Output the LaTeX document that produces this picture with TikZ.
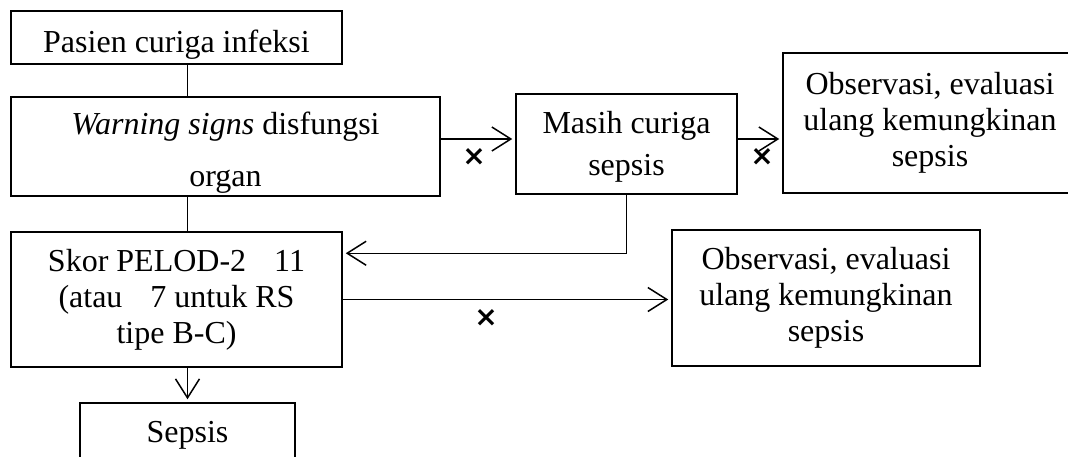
\documentclass[tikz,border=0pt]{standalone}
\usepackage{fontspec}
\setmainfont{Liberation Serif}
\newfontfamily\crossfont{DejaVu Sans}
\usepackage{tikz}
\usetikzlibrary{arrows.meta}

\begin{document}
\begin{tikzpicture}[x=1pt, y=-1pt,
    box/.style={draw, line width=1.5pt, inner sep=0pt, align=center,
        font=\fontsize{32}{36}\selectfont},
    arr/.style={line width=1.5pt, -{Straight Barb[length=19pt, width=24pt, line width=1.5pt]}, shorten >=3pt},
    link/.style={line width=1.5pt},
    cross/.style={inner sep=0pt, font=\crossfont\bfseries\fontsize{28}{28}\selectfont}]
    \useasboundingbox (0,0) rectangle (1068,456);

    % kotak-kotak alur
    \node[box, minimum width=331pt, minimum height=53pt] (pasien) at (176.5,37.5) {\rule{0pt}{36pt}Pasien curiga infeksi};
    \node[box, minimum width=429pt, minimum height=99pt, font=\fontsize{32}{52}\selectfont] (warn) at (225.5,146.5) {\rule{0pt}{34pt}\textit{Warning signs} disfungsi\\organ};
    \node[box, minimum width=221pt, minimum height=100pt, font=\fontsize{32}{42}\selectfont] (masih) at (626.5,144) {\rule{0pt}{27pt}Masih curiga\\sepsis};
    \node[box, minimum width=294pt, minimum height=140pt] (obsA) at (930,123) {Observasi, evaluasi\\ulang kemungkinan\\sepsis};
    \node[box, minimum width=331pt, minimum height=135pt] (skor) at (176.5,299.5) {Skor PELOD-2 \hspace{12pt} 11\\(atau \hspace{12pt} 7 untuk RS\\tipe B-C)};
    \node[box, minimum width=308pt, minimum height=136pt] (obsB) at (826,298) {Observasi, evaluasi\\ulang kemungkinan\\sepsis};
    \node[box, minimum width=215pt, minimum height=64pt] (sepsis) at (187.5,435) {Sepsis};

    % tanda silang
    \node[cross] (xA) at (474,157) {×};
    \node[cross] (xB) at (762,157) {×};
    \node[cross] (xC) at (486,318) {×};

    % garis penghubung
    \draw[link] (pasien.south -| sepsis.north) -- (warn.north -| sepsis.north);
    \draw[link] (warn.south -| sepsis.north) -- (skor.north -| sepsis.north);
    \draw[arr] (skor.south -| sepsis.north) -- (sepsis.north);
    \draw[arr] ([yshift=7.5pt]warn.east) -- ([yshift=7.5pt]warn.east -| masih.west);
    \draw[arr] ([yshift=5pt]masih.east) -- ([yshift=5pt]masih.east -| obsA.west);
    \draw[arr] (masih.south) |- ([yshift=-22pt]skor.north east);
    \draw[arr] (skor.east) -- (skor.east -| obsB.west);
\end{tikzpicture}
\end{document}
